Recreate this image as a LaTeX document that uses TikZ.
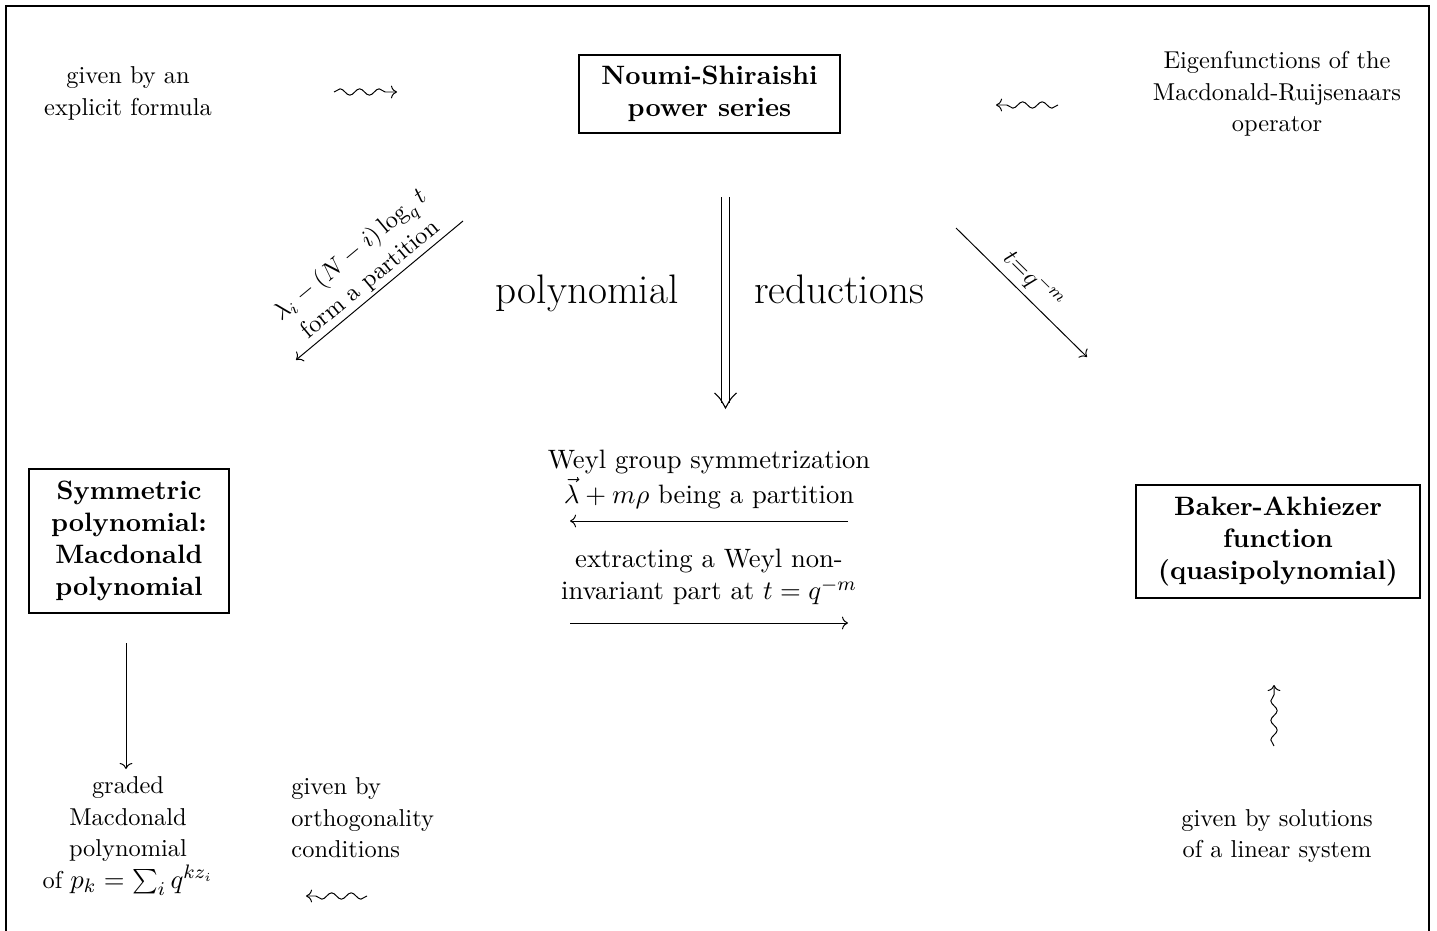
\documentclass[tikz,border=0pt]{standalone}
\usetikzlibrary{decorations.pathmorphing,arrows.meta}
\begin{document}
\begin{tikzpicture}[x=0.4098pt,y=-0.4098pt,
  txt/.style={align=center, inner sep=0pt, font=\fontsize{10}{12.9}\selectfont},
  mtxt/.style={align=center, inner sep=0pt, font=\fontsize{10.9}{13.2}\selectfont},
  bbox/.style={draw, line width=0.8pt, align=center, inner sep=0pt, font=\fontsize{10.9}{13.1}\selectfont\bfseries},
  sq/.style={->, decorate, decoration={snake, amplitude=1.3pt, segment length=8pt, post length=2.5pt, pre length=0pt}},
  arr/.style={->},
  big/.style={inner sep=0pt, font=\fontsize{16.9}{20}\selectfont},
  frame/.style={line width=0.9pt}
]
\useasboundingbox (0,0) rectangle (1437,931);
% frame
\coordinate (fbl) at (6,940);
\coordinate (ftl) at (6,6);
\coordinate (ftr) at (1429,6);
\coordinate (fbr) at (1429,940);
\draw[frame] (fbl) -- (ftl) -- (ftr) -- (fbr);

% top row
\node[txt] (expl) at (128,93.5) {given by an\\explicit formula};
\node[bbox, minimum width=107pt, minimum height=32pt] (ns) at (709.5,94) {Noumi-Shiraishi\\power series};
\node[txt] (eig) at (1277,94) {Eigenfunctions of the\\Macdonald-Ruijsenaars\\operator};
\coordinate (s1a) at (334,92); \coordinate (s1b) at (397,92);
\draw[sq] (s1a) -- (s1b);
\coordinate (s2a) at (1058,105); \coordinate (s2b) at (996,105);
\draw[sq] (s2a) -- (s2b);

% diagonals
\coordinate (d1a) at (463,221); \coordinate (d1b) at (296,360);
\draw[arr] (d1a) -- node[midway, above=1pt, sloped, txt] (lab1) {$\lambda_i-(N-i)\log_q t$\\form a partition} (d1b);
\coordinate (d2a) at (956,228); \coordinate (d2b) at (1087,357);
\draw[arr] (d2a) -- node[midway, above=2pt, sloped, txt] (lab2) {$t{=}q^{-m}$} (d2b);

% double arrow
\coordinate (dda) at (725.5,197); \coordinate (ddb) at (725.5,403);
\coordinate (ddt) at (725.5,408);
\draw[double, double distance=2.7pt, line width=0.45pt] (dda) -- (ddb);
\draw[line width=0.45pt] (714.5,393) .. controls (720,398) .. (ddt) .. controls (731,398) .. (736.5,393);
\node[big, anchor=base] (poly) at (587,304) {polynomial};
\node[big, anchor=base] (red) at (839,304) {reductions};

% middle
\node[mtxt, font=\fontsize{10.9}{14.4}\selectfont] (weyl) at (709,479.5) {Weyl group symmetrization\\$\vec\lambda+m\rho$ being a partition};
\coordinate (m1a) at (848,521); \coordinate (m1b) at (570,521);
\draw[arr] (m1a) -- (m1b);
\node[mtxt] (extr) at (709,577) {extracting a Weyl non-\\invariant part at $t=q^{-m}$};
\coordinate (m2a) at (570,623); \coordinate (m2b) at (848,623);
\draw[arr] (m2a) -- (m2b);

% side boxes
\node[bbox, minimum width=82pt, minimum height=59pt] (sym) at (129,541) {Symmetric\\polynomial:\\Macdonald\\polynomial};
\node[bbox, minimum width=116.4pt, minimum height=46.3pt] (ba) at (1278,541.5) {Baker-Akhiezer\\function\\(quasipolynomial)};

% bottom left
\coordinate (v1a) at (126,643); \coordinate (v1b) at (126,769);
\draw[arr] (v1a) -- (v1b);
\node[txt] (grad) at (128,836) {graded\\Macdonald\\polynomial\\of {\fontsize{10.8}{12.9}\selectfont$p_k=\sum_i q^{kz_i}$}};
\node[txt, align=left, anchor=west] (orth) at (291,818) {given by\\orthogonality\\conditions};
\coordinate (s3a) at (367,896); \coordinate (s3b) at (306,896);
\draw[sq] (s3a) -- (s3b);

% bottom right
\coordinate (s4a) at (1274,746); \coordinate (s4b) at (1274,685);
\draw[sq] (s4a) -- (s4b);
\node[txt] (sol) at (1277,836) {given by solutions\\of a linear system};
\end{tikzpicture}
\end{document}
